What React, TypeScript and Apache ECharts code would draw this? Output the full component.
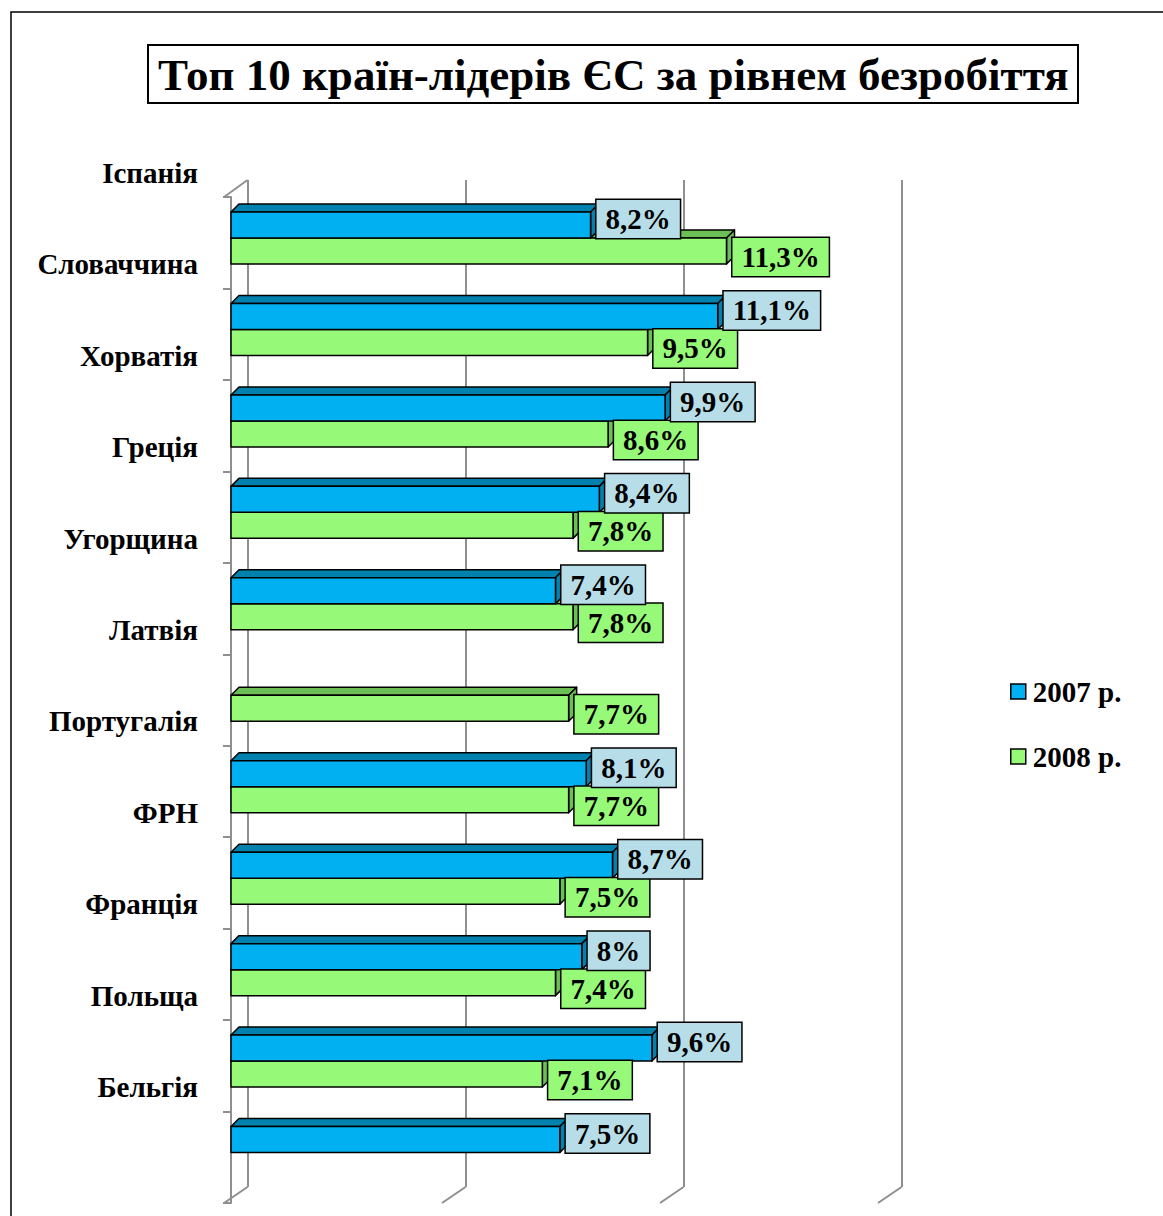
import React, { useEffect, useRef } from 'react';
import * as echarts from 'echarts';

const categories = ['Іспанія', 'Словаччина', 'Хорватія', 'Греція', 'Угорщина', 'Латвія', 'Португалія', 'ФРН', 'Франція', 'Польща', 'Бельгія'];
const values2007 = [8.2, 11.1, 9.9, 8.4, 7.4, null, 8.1, 8.7, 8, 9.6, 7.5];
const values2008 = [11.3, 9.5, 8.6, 7.8, 7.8, 7.7, 7.7, 7.5, 7.4, 7.1, null];
const seriesNames = ['2007 р.', '2008 р.'];
const wallTicks = [0, 5, 10, 15];
const titleText = 'Топ 10 країн-лідерів ЄС за рівнем безробіття';

const FONT = '"Liberation Serif", "Times New Roman", serif';
const BLUE = '#00B0F0';
const BLUE_DARK = '#0081AE';
const BLUE_LABEL = '#B7DEE8';
const GREEN = '#96FA78';
const GREEN_DARK = '#6BBF55';
const GREEN_LABEL = '#96FA78';
const GRAY = '#8F8F8F';
const DEPTH = 8;

const fmt = (v: number) => String(v).replace('.', ',') + '%';
const toData = (arr: (number | null)[]) => arr.flatMap((v, i) => (v == null ? [] : [[v, i]]));

function barGeom(api: any, topRatio: number, botRatio: number) {
  const v = api.value(0);
  const i = api.value(1);
  const s = api.coord([0, i]);
  const e = api.coord([v, i]);
  const band = api.size([0, 1])[1];
  const y0 = s[1] - band / 2;
  return { v, x0: s[0], x1: e[0], top: y0 + band * topRatio, bot: y0 + band * botRatio };
}

function barRenderer(topRatio: number, botRatio: number, front: string, dark: string) {
  return (_p: any, api: any) => {
    const { x0, x1, top, bot } = barGeom(api, topRatio, botRatio);
    const d = DEPTH;
    const st = { stroke: '#000', lineWidth: 1.5, lineJoin: 'round' };
    return {
      type: 'group',
      children: [
        { type: 'polygon', shape: { points: [[x0, top], [x0 + d, top - d], [x1 + d, top - d], [x1, top]] }, style: { fill: dark, ...st } },
        { type: 'polygon', shape: { points: [[x1, top], [x1 + d, top - d], [x1 + d, bot - d], [x1, bot]] }, style: { fill: dark, ...st } },
        { type: 'rect', shape: { x: x0, y: top, width: x1 - x0, height: bot - top }, style: { fill: front, ...st } },
      ],
    };
  };
}

function labelRenderer(topRatio: number, botRatio: number, bg: string, shift: number) {
  return (_p: any, api: any) => {
    const { v, x1, top, bot } = barGeom(api, topRatio, botRatio);
    return {
      type: 'text',
      x: x1 + DEPTH - 2,
      y: (top + bot) / 2 + shift,
      style: {
        text: fmt(v),
        fill: '#000',
        fontSize: 29,
        fontWeight: 'bold',
        fontFamily: FONT,
        lineHeight: 29,
        backgroundColor: bg,
        borderColor: '#000',
        borderWidth: 1.5,
        padding: [5, 9, 4, 9],
        align: 'left',
        verticalAlign: 'middle',
      },
    };
  };
}

const R_TOP = 15 / 91.45;
const R_MID = 41 / 91.45;
const R_BOT = 67 / 91.45;

export default function App() {
  const ref = useRef<HTMLDivElement>(null);
  useEffect(() => {
    const chart = echarts.init(ref.current!, null, { renderer: 'svg' });
    const hidden = { show: false };
    chart.setOption({
      animation: false,
      backgroundColor: '#fff',
      title: {
        text: titleText,
        left: 148,
        top: 45,
        padding: [7, 10, 6, 10],
        borderColor: '#000',
        borderWidth: 2,
        textStyle: { fontSize: 45, fontWeight: 'bold', fontFamily: FONT, color: '#000' },
      },
      legend: {
        orient: 'vertical',
        left: 1010,
        top: 677,
        padding: 0,
        itemWidth: 15,
        itemHeight: 15,
        itemGap: 36,
        data: [
          { name: seriesNames[0], icon: 'rect' },
          { name: seriesNames[1], icon: 'rect' },
        ],
        itemStyle: { borderColor: '#000', borderWidth: 1.5 },
        textStyle: { fontSize: 29, fontWeight: 'bold', fontFamily: FONT, color: '#000', padding: [0, 0, 0, 2] },
      },
      graphic: [
        { type: 'rect', silent: true, shape: { x: 11, y: 12, width: 1400, height: 1400 }, style: { fill: 'transparent', stroke: '#000', lineWidth: 1.5 } },
      ],
      grid: [
        { left: 231, top: 197, width: 15 * 43.85, height: 1006, outerBoundsMode: 'none' },
        { left: 247.5, top: 180, width: 654, height: 1007, outerBoundsMode: 'none' },
        { left: 231, top: 127, width: 15 * 43.85, height: 1006, outerBoundsMode: 'none' },
      ],
      xAxis: [
        { gridIndex: 0, type: 'value', min: 0, max: 15, interval: 5, axisLine: hidden, axisTick: hidden, axisLabel: hidden, splitLine: hidden },
        { gridIndex: 1, type: 'value', min: 0, max: 15, interval: 5, axisLine: hidden, axisTick: hidden, axisLabel: hidden, splitLine: { show: true, showMinLine: true, showMaxLine: true, lineStyle: { color: GRAY, width: 2 } } },
        { gridIndex: 2, type: 'value', min: 0, max: 15, show: false },
      ],
      yAxis: [
        {
          gridIndex: 0, type: 'category', inverse: true, data: categories,
          offset: 7,
          axisLine: { show: true, lineStyle: { color: GRAY, width: 2 } },
          axisTick: { show: true, length: 8, interval: 0, lineStyle: { color: GRAY, width: 2 } },
          axisLabel: hidden, splitLine: hidden,
        },
        { gridIndex: 1, type: 'value', min: 0, max: 1, show: false },
        {
          gridIndex: 2, type: 'category', inverse: true, data: categories,
          axisLine: hidden, axisTick: hidden, splitLine: hidden,
          axisLabel: { interval: 0, margin: 33, fontSize: 29, fontWeight: 'bold', fontFamily: FONT, color: '#000' },
        },
      ],
      series: [
        {
          type: 'custom', name: 'wall', xAxisIndex: 1, yAxisIndex: 1, z: 1, silent: true,
          data: wallTicks.map((v) => [v, 0]),
          renderItem: (_p: any, api: any) => {
            const v = api.value(0);
            const b = api.coord([v, 0]);
            const children: any[] = [
              { type: 'line', shape: { x1: b[0], y1: b[1], x2: b[0] - 23.5, y2: b[1] + 16 }, style: { stroke: GRAY, lineWidth: 2 } },
            ];
            if (v === 0) {
              const t = api.coord([v, 1]);
              children.push({ type: 'line', shape: { x1: t[0], y1: t[1], x2: t[0] - 23.5, y2: t[1] + 17 }, style: { stroke: GRAY, lineWidth: 2 } });
            }
            return { type: 'group', children };
          },
        },
        {
          type: 'custom', name: seriesNames[1], xAxisIndex: 0, yAxisIndex: 0, z: 2,
          itemStyle: { color: GREEN },
          data: toData(values2008),
          encode: { x: 0, y: 1 },
          renderItem: barRenderer(R_MID, R_BOT, GREEN, GREEN_DARK),
        },
        {
          type: 'custom', name: seriesNames[0], xAxisIndex: 0, yAxisIndex: 0, z: 3,
          itemStyle: { color: BLUE },
          data: toData(values2007),
          encode: { x: 0, y: 1 },
          renderItem: barRenderer(R_TOP, R_MID, BLUE, BLUE_DARK),
        },
        {
          type: 'custom', name: 'labels2008', xAxisIndex: 0, yAxisIndex: 0, z: 4,
          data: toData(values2008),
          encode: { x: 0, y: 1 },
          renderItem: labelRenderer(R_MID, R_BOT, GREEN_LABEL, 6),
        },
        {
          type: 'custom', name: 'labels2007', xAxisIndex: 0, yAxisIndex: 0, z: 5,
          data: toData(values2007),
          encode: { x: 0, y: 1 },
          renderItem: labelRenderer(R_TOP, R_MID, BLUE_LABEL, -6),
        },
      ],
    });
    return () => chart.dispose();
  }, []);
  return <div ref={ref} style={{ position: 'absolute', left: 0, top: 0, width: 1163, height: 1216 }} />;
}
